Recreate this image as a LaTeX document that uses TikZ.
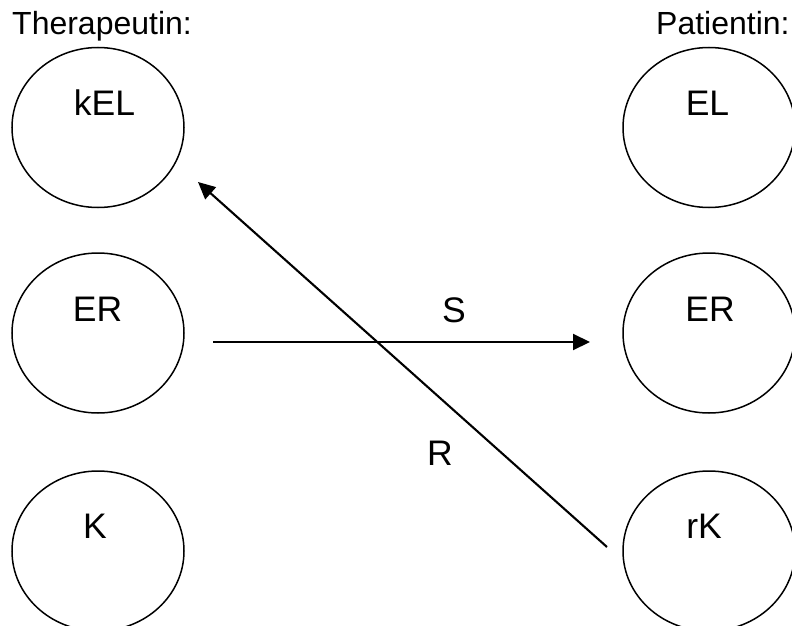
\documentclass[tikz,border=0pt]{standalone}
\usepackage{fontspec}
\setmainfont{Liberation Sans}
\usetikzlibrary{shapes.geometric,arrows.meta}

\tikzset{
  cell/.style={ellipse, draw, line width=1.5pt, minimum width=172pt, minimum height=160pt, inner sep=0pt},
  tag/.style={anchor=base, inner sep=0pt, font=\fontsize{35.5}{40}\selectfont},
  head/.style={anchor=base west, inner sep=0pt, font=\fontsize{32}{36}\selectfont},
  flow/.style={line width=2.1pt, -{Triangle[length=17pt,width=16pt]}}
}

\begin{document}
\begin{tikzpicture}[x=1pt, y=-1pt]
  \useasboundingbox (0,0) rectangle (792,626);
  \clip (0,0) rectangle (792,626);

  % column headings
  \node[head] (th) at (12,35) {Therapeutin:};
  \node[head] (pa) at (656,35) {Patientin:};

  % therapist side
  \node[cell] (tkel) at (98,127.5) {};
  \node[cell] (ter)  at (98,333) {};
  \node[cell] (tk)   at (98,551) {};
  \node[tag] (tkelt) at (104.5,115) {kEL};
  \node[tag] (tert)  at (97.5,321.5) {ER};
  \node[tag] (tkt)   at (95,538) {K};

  % patient side
  \node[cell] (pel) at (709,127.5) {};
  \node[cell] (per) at (709,333) {};
  \node[cell] (prk) at (709,551) {};
  \node[tag] (pelt) at (707.5,115) {EL};
  \node[tag] (pert) at (710,321.5) {ER};
  \node[tag] (prkt) at (704,538) {rK};

  % transfer arrows
  \coordinate (sa) at (213,342);
  \coordinate (sb) at (590,342);
  \coordinate (ra) at (607,547);
  \coordinate (rb) at (198,182);
  \draw[flow] (sa) -- (sb);
  \draw[flow] (ra) -- (rb);
  \node[tag] (slab) at (454,322) {S};
  \node[tag] (rlab) at (440,465) {R};
\end{tikzpicture}
\end{document}
